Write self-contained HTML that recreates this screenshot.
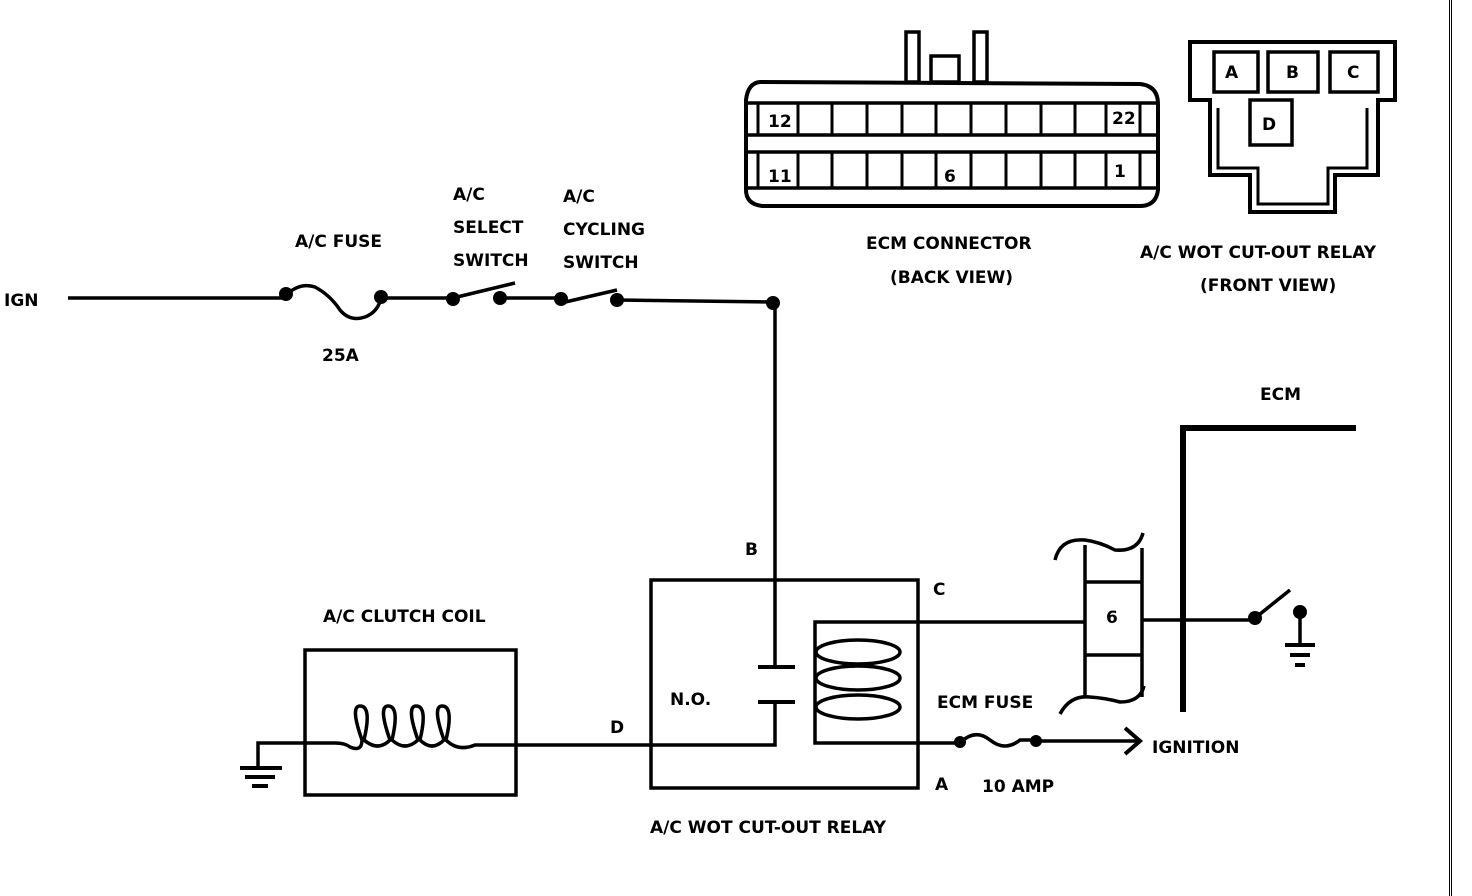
<!DOCTYPE html>
<html><head><meta charset="utf-8"><style>
html,body{margin:0;padding:0;background:#fff;}
svg{display:block;}
text{font-family:"DejaVu Sans","Liberation Sans",sans-serif;font-size:17px;font-weight:bold;fill:#000;}
</style></head><body>
<svg width="1472" height="896" viewBox="0 0 1472 896" xmlns="http://www.w3.org/2000/svg">
<g stroke="#000" fill="none" stroke-width="3.5">
<line x1="1449.5" y1="0" x2="1449.5" y2="896" stroke-width="1"/>
<line x1="1451.5" y1="0" x2="1451.5" y2="896" stroke-width="1"/>

<path d="M760,82 L1140,84 Q1158,86 1158,104 L1158,190 Q1156,206 1140,206 L762,206 Q746,204 746,190 L746,100 Q748,83 760,82 Z" stroke-width="4"/>
<line x1="746" y1="103" x2="1158" y2="103"/>
<line x1="746" y1="135" x2="1158" y2="135"/>
<line x1="746" y1="152" x2="1158" y2="152"/>
<line x1="746" y1="188" x2="1158" y2="188"/>
<g stroke-width="3">
<path d="M758,103V135 M758,152V188"/>
<path d="M798,103V135 M798,152V188"/>
<path d="M832,103V135 M832,152V188"/>
<path d="M867,103V135 M867,152V188"/>
<path d="M902,103V135 M902,152V188"/>
<path d="M936,103V135 M936,152V188"/>
<path d="M971,103V135 M971,152V188"/>
<path d="M1006,103V135 M1006,152V188"/>
<path d="M1041,103V135 M1041,152V188"/>
<path d="M1075,103V135 M1075,152V188"/>
<path d="M1106,103V135 M1106,152V188"/>
<path d="M1140,103V135 M1140,152V188"/>
</g>
<rect x="906" y="32" width="13" height="50"/>
<rect x="931" y="56" width="28" height="26"/>
<rect x="974" y="32" width="13" height="50"/>

<path d="M1190,42 H1395 V100 H1378 V175 H1335 V212 H1250 V175 H1210 V100 H1190 Z" stroke-width="4"/>
<path d="M1218,108 V168 H1258 V204 H1328 V168 H1367 V108" stroke-width="3"/>
<rect x="1214" y="52" width="44" height="40"/>
<rect x="1268" y="52" width="50" height="40"/>
<rect x="1330" y="52" width="48" height="40"/>
<rect x="1250" y="100" width="42" height="45"/>

<line x1="68" y1="298" x2="286" y2="298"/>
<path d="M286,295 Q300,282 315,287 Q330,295 340,310 Q350,322 365,317 Q378,312 381,298"/>
<line x1="381" y1="298" x2="453" y2="298"/>
<line x1="453" y1="298" x2="515" y2="283"/>
<line x1="500" y1="298" x2="561" y2="298"/>
<line x1="561" y1="303" x2="617" y2="290"/>
<line x1="617" y1="300" x2="773" y2="302"/>
<line x1="775" y1="303" x2="775" y2="667"/>
<line x1="758" y1="667" x2="795" y2="667" stroke-width="4"/>
<line x1="758" y1="702" x2="795" y2="702" stroke-width="4"/>
<path d="M775,702 V745 H515"/>

<rect x="651" y="580" width="267" height="208"/>
<path d="M918,622 H815 V743 H960"/>
<path d="M918,622 H1085"/>
<ellipse cx="858" cy="652" rx="42" ry="12"/>
<ellipse cx="858" cy="678" rx="42" ry="12"/>
<ellipse cx="858" cy="707" rx="42" ry="12"/>
<path d="M960,743 Q975,728 990,740 Q1005,752 1020,740 L1036,740"/>
<line x1="1036" y1="741" x2="1140" y2="741"/>
<path d="M1125,728 L1140,741 L1125,754" stroke-width="4"/>

<line x1="1085" y1="545" x2="1085" y2="697"/>
<line x1="1142" y1="548" x2="1142" y2="697"/>
<line x1="1085" y1="582" x2="1142" y2="582"/>
<line x1="1085" y1="655" x2="1142" y2="655"/>
<path d="M1055,560 Q1060,538 1085,540 Q1100,542 1115,550 Q1138,552 1143,533"/>
<path d="M1060,714 Q1070,695 1090,697 Q1105,698 1120,702 Q1140,702 1144,686"/>
<line x1="1142" y1="620" x2="1255" y2="620"/>
<line x1="1183" y1="428" x2="1183" y2="712" stroke-width="6"/>
<line x1="1180" y1="428" x2="1356" y2="428" stroke-width="6"/>
<line x1="1255" y1="618" x2="1290" y2="590"/>
<line x1="1300" y1="612" x2="1300" y2="643"/>
<line x1="1285" y1="645" x2="1315" y2="645" stroke-width="4"/>
<line x1="1290" y1="655" x2="1310" y2="655" stroke-width="4"/>
<line x1="1295" y1="665" x2="1305" y2="665" stroke-width="4"/>

<rect x="305" y="650" width="211" height="145"/>
<path d="M258,768 V743 H335 Q345,743 350,747 Q362,752 362,740 Q350,706 360,706 Q372,706 364,740 Q378,752 390,740 Q378,706 388,706 Q400,706 392,740 Q405,752 418,740 Q406,706 416,706 Q428,706 420,740 Q432,752 444,740 Q432,706 442,706 Q454,706 446,740 Q458,752 475,745 H516"/>
<line x1="240" y1="768" x2="282" y2="768" stroke-width="4"/>
<line x1="245" y1="777" x2="275" y2="777" stroke-width="4"/>
<line x1="252" y1="786" x2="268" y2="786" stroke-width="4"/>
</g>
<g fill="#000">
<circle cx="286" cy="294" r="7"/><circle cx="381" cy="297" r="7"/>
<circle cx="453" cy="299" r="7"/><circle cx="500" cy="298" r="7"/>
<circle cx="561" cy="299" r="7"/><circle cx="617" cy="300" r="7"/>
<circle cx="773" cy="303" r="7"/>
<circle cx="960" cy="742" r="6"/><circle cx="1036" cy="741" r="6"/>
<circle cx="1255" cy="618" r="7"/><circle cx="1300" cy="612" r="7"/>
</g>
<text x="768" y="127" font-size="16">12</text>
<text x="1112" y="124" font-size="16">22</text>
<text x="768" y="182" font-size="16">11</text>
<text x="944" y="182" font-size="16">6</text>
<text x="1114" y="177" font-size="16">1</text>
<text x="1225" y="78" font-size="16">A</text>
<text x="1286" y="78" font-size="16">B</text>
<text x="1347" y="78" font-size="16">C</text>
<text x="1262" y="130" font-size="16">D</text>
<text x="866" y="249">ECM CONNECTOR</text>
<text x="890" y="283">(BACK VIEW)</text>
<text x="1140" y="258">A/C WOT CUT-OUT RELAY</text>
<text x="1200" y="291">(FRONT VIEW)</text>
<text x="4" y="306">IGN</text>
<text x="295" y="247">A/C FUSE</text>
<text x="322" y="361">25A</text>
<text x="453" y="200">A/C</text>
<text x="453" y="233">SELECT</text>
<text x="453" y="266">SWITCH</text>
<text x="563" y="202">A/C</text>
<text x="563" y="235">CYCLING</text>
<text x="563" y="268">SWITCH</text>
<text x="1260" y="400">ECM</text>
<text x="745" y="555">B</text>
<text x="933" y="595">C</text>
<text x="1106" y="623">6</text>
<text x="323" y="622">A/C CLUTCH COIL</text>
<text x="670" y="705">N.O.</text>
<text x="610" y="733">D</text>
<text x="937" y="708">ECM FUSE</text>
<text x="1152" y="753">IGNITION</text>
<text x="935" y="790">A</text>
<text x="982" y="792">10 AMP</text>
<text x="650" y="833">A/C WOT CUT-OUT RELAY</text>
</svg>
</body></html>
